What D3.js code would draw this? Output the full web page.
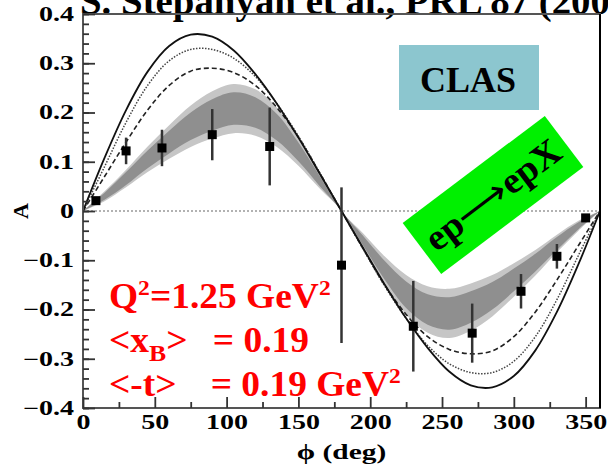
<!DOCTYPE html>
<html>
<head>
<meta charset="utf-8">
<script src="https://cdn.jsdelivr.net/npm/d3@7"></script>
<style>
  body { margin: 0; background: #fff; }
  svg { display: block; }
</style>
</head>
<body>
<div id="chart"></div>
<script>
// set dimensions
var width = 608
var height = 464
var margin = {left: 83, right: 8, top: 14, bottom: 56}
var font = "'Liberation Serif', 'Times New Roman', serif"

// measured points (phi in deg, asymmetry, error)
var phiData = [9, 30, 55, 90, 130, 180, 230, 271, 305, 330, 350]
var asymData = [0.021, 0.122, 0.128, 0.155, 0.131, -0.11, -0.234, -0.248, -0.163, -0.092, -0.014]
var errData = [0.004, 0.027, 0.037, 0.052, 0.079, 0.158, 0.092, 0.06, 0.035, 0.025, 0.004]

// model curves, read every 15 deg
var phiGrid = [0, 15, 30, 45, 60, 75, 90, 105, 120, 135, 150, 165, 180,
               195, 210, 225, 240, 255, 270, 285, 300, 315, 330, 345, 360]
var solidCurve = [0, 0.108, 0.205, 0.283, 0.335, 0.358, 0.354, 0.326, 0.278, 0.218, 0.149, 0.075, 0,
                  -0.075, -0.149, -0.218, -0.278, -0.326, -0.354, -0.358, -0.335, -0.283, -0.205, -0.108, 0]
var dottedCurve = [0, 0.09, 0.18, 0.255, 0.305, 0.328, 0.328, 0.31, 0.273, 0.218, 0.152, 0.077, 0,
                   -0.077, -0.152, -0.218, -0.273, -0.31, -0.328, -0.328, -0.305, -0.255, -0.18, -0.09, 0]
var dashedCurve = [0, 0.07, 0.14, 0.205, 0.255, 0.284, 0.29, 0.281, 0.255, 0.21, 0.15, 0.076, 0,
                   -0.076, -0.15, -0.21, -0.255, -0.281, -0.29, -0.284, -0.255, -0.205, -0.14, -0.07, 0]
// shaded band: centre and half widths
var bandMid = [0, 0.03, 0.066, 0.105, 0.14, 0.172, 0.195, 0.208, 0.2, 0.17, 0.12, 0.06, 0,
               -0.06, -0.12, -0.17, -0.2, -0.208, -0.195, -0.172, -0.14, -0.105, -0.066, -0.03, 0]
var bandOuter = [0, 0.01, 0.018, 0.026, 0.034, 0.042, 0.048, 0.05, 0.047, 0.04, 0.028, 0.015, 0,
                 0.015, 0.028, 0.04, 0.047, 0.05, 0.048, 0.042, 0.034, 0.026, 0.018, 0.01, 0]
var bandInner = [0, 0.007, 0.013, 0.018, 0.023, 0.028, 0.032, 0.033, 0.031, 0.027, 0.019, 0.01, 0,
                 0.01, 0.019, 0.027, 0.031, 0.033, 0.032, 0.028, 0.023, 0.018, 0.013, 0.007, 0]

var xTicks = [0, 50, 100, 150, 200, 250, 300, 350]
var yTicks = [-0.4, -0.3, -0.2, -0.1, 0, 0.1, 0.2, 0.3, 0.4]

var svg = d3.select("#chart")
  .append("svg")
  .attr("width", width)
  .attr("height", height)

var x = d3.scaleLinear().domain([0, 360]).range([margin.left, width - margin.right])
var y = d3.scaleLinear().domain([-0.4, 0.4]).range([height - margin.bottom, margin.top])

// the scanned figure is stretched sideways, so widen text glyphs
function stretch(sel, k) {
  sel.each(function() {
    var w = this.getComputedTextLength()
    d3.select(this).attr("textLength", w * k).attr("lengthAdjust", "spacingAndGlyphs")
  })
}

// title, cut by the top edge
svg.append("text")
  .attr("x", 80).attr("y", 14)
  .attr("font-family", font).attr("font-size", "37px").attr("font-weight", 700)
  .text("S. Stepanyan et al., PRL 87 (2001)")
  .call(stretch, 1.05)

// band
var bandOut = d3.area()
  .x(function(d, i) { return x(phiGrid[i]) })
  .y0(function(d, i) { return y(bandMid[i] - bandOuter[i]) })
  .y1(function(d, i) { return y(bandMid[i] + bandOuter[i]) })
  .curve(d3.curveCatmullRom)
var bandIn = d3.area()
  .x(function(d, i) { return x(phiGrid[i]) })
  .y0(function(d, i) { return y(bandMid[i] - bandInner[i]) })
  .y1(function(d, i) { return y(bandMid[i] + bandInner[i]) })
  .curve(d3.curveCatmullRom)
svg.append("path").attr("d", bandOut(phiGrid)).attr("fill", "#c6c6c6")
svg.append("path").attr("d", bandIn(phiGrid)).attr("fill", "#8f8f8f")

// zero line
svg.append("line")
  .attr("x1", x(0)).attr("x2", x(360)).attr("y1", y(0)).attr("y2", y(0))
  .attr("stroke", "#999").attr("stroke-width", 1.5).attr("stroke-dasharray", "2,2")

// curves
function curveLine(vals) {
  return d3.line()
    .x(function(d, i) { return x(phiGrid[i]) })
    .y(function(d, i) { return y(vals[i]) })
    .curve(d3.curveCatmullRom)(phiGrid)
}
svg.append("path").attr("d", curveLine(dashedCurve))
  .attr("fill", "none").attr("stroke", "#222").attr("stroke-width", 1.6).attr("stroke-dasharray", "5,3")
svg.append("path").attr("d", curveLine(dottedCurve))
  .attr("fill", "none").attr("stroke", "#444").attr("stroke-width", 1.5).attr("stroke-dasharray", "1.5,1.5")
svg.append("path").attr("d", curveLine(solidCurve))
  .attr("fill", "none").attr("stroke", "#111").attr("stroke-width", 1.8)

// error bars and points
var pts = phiData.map(function(p, i) { return {phi: p, a: asymData[i], e: errData[i]} })
svg.append("g").selectAll("line")
  .data(pts).enter().append("line")
  .attr("x1", function(d) { return x(d.phi) }).attr("x2", function(d) { return x(d.phi) })
  .attr("y1", function(d) { return y(d.a - d.e) }).attr("y2", function(d) { return y(d.a + d.e) })
  .attr("stroke", "#333").attr("stroke-width", 2.5)
svg.append("g").selectAll("rect")
  .data(pts).enter().append("rect")
  .attr("x", function(d) { return x(d.phi) - 4.5 })
  .attr("y", function(d) { return y(d.a) - 4.5 })
  .attr("width", 9).attr("height", 9)
  .attr("fill", "#000")

// frame
svg.append("rect")
  .attr("x", x(0)).attr("y", y(0.4))
  .attr("width", x(360) - x(0)).attr("height", y(-0.4) - y(0.4))
  .attr("fill", "none").attr("stroke", "#555").attr("stroke-width", 2)
svg.append("line")
  .attr("x1", x(360)).attr("x2", x(360)).attr("y1", y(0.4)).attr("y2", y(-0.4))
  .attr("stroke", "#000").attr("stroke-width", 2)

// axes, ticks inside
var yAxis = d3.axisLeft(y).tickValues(yTicks).tickSize(-12).tickFormat(d3.format("")).tickPadding(9)
var yMinor = d3.axisLeft(y).tickValues(d3.range(-0.4, 0.401, 0.02)).tickSize(-6).tickFormat("")
var xAxis = d3.axisBottom(x).tickValues(xTicks).tickSize(-11).tickFormat(d3.format("d")).tickPadding(7)
var xMinor = d3.axisBottom(x).tickValues(d3.range(25, 360, 50)).tickSize(-6).tickFormat("")

function styleAxis(g) {
  g.select(".domain").remove()
  g.selectAll("line").attr("stroke", "#333").attr("stroke-width", 1.8)
  g.selectAll("text").attr("font-family", font).attr("font-size", "20px")
    .attr("font-weight", 700).attr("fill", "#000")
    .call(stretch, 1.4)
}
svg.append("g").attr("transform", "translate(" + x(0) + ",0)").call(yMinor).call(styleAxis)
svg.append("g").attr("transform", "translate(" + x(0) + ",0)").call(yAxis).call(styleAxis)
svg.append("g").attr("transform", "translate(0," + y(-0.4) + ")").call(xMinor).call(styleAxis)
svg.append("g").attr("transform", "translate(0," + y(-0.4) + ")").call(xAxis).call(styleAxis)

// axis titles
svg.append("text")
  .attr("transform", "translate(28,211) rotate(-90)")
  .attr("text-anchor", "middle")
  .attr("font-family", font).attr("font-size", "22px").attr("font-weight", 700)
  .text("A")
svg.append("text")
  .attr("x", x(180)).attr("y", 459)
  .attr("text-anchor", "middle")
  .attr("font-family", font).attr("font-size", "21px").attr("font-weight", 700)
  .text("ϕ (deg)")
  .call(stretch, 1.4)

// CLAS box
svg.append("rect")
  .attr("x", 399).attr("y", 45).attr("width", 140).attr("height", 65)
  .attr("fill", "#8cc6cf")
svg.append("text")
  .attr("x", 468).attr("y", 92).attr("text-anchor", "middle")
  .attr("font-family", font).attr("font-size", "36px").attr("font-weight", 700)
  .text("CLAS")

// reaction box, rotated
var rg = svg.append("g").attr("transform", "translate(493,195) rotate(-37)")
rg.append("rect")
  .attr("x", -89).attr("y", -32).attr("width", 178).attr("height", 64)
  .attr("fill", "#00f000")
var rt = rg.append("text")
  .attr("x", 0).attr("y", 12).attr("text-anchor", "middle")
  .attr("font-family", font).attr("font-size", "37px").attr("font-weight", 700)
  .attr("textLength", 160).attr("lengthAdjust", "spacingAndGlyphs")
rt.append("tspan").text("ep")
rt.append("tspan").attr("font-weight", 400).text("⟶")
rt.append("tspan").text("epX")

// kinematics
var kin = svg.append("g")
  .attr("transform", "translate(109,0) scale(1.07,1) translate(-109,0)")
  .attr("font-family", font).attr("font-size", "35px").attr("font-weight", 700).attr("fill", "#ff0000")
var l1 = kin.append("text").attr("x", 109).attr("y", 308)
l1.append("tspan").text("Q")
l1.append("tspan").attr("font-size", "22px").attr("dy", -13).text("2")
l1.append("tspan").attr("dy", 13).text("=1.25 GeV")
l1.append("tspan").attr("font-size", "22px").attr("dy", -13).text("2")
var l2 = kin.append("text").attr("x", 109).attr("y", 352)
l2.append("tspan").text("<x")
l2.append("tspan").attr("font-size", "24px").attr("dy", 9).text("B")
l2.append("tspan").attr("dy", -9).text(">")
l2.append("tspan").attr("x", 206).text("= 0.19")
var l3 = kin.append("text").attr("x", 109).attr("y", 396)
l3.append("tspan").text("<-t>")
l3.append("tspan").attr("x", 204).text("= 0.19 GeV")
l3.append("tspan").attr("font-size", "22px").attr("dy", -13).text("2")
</script>
</body>
</html>
